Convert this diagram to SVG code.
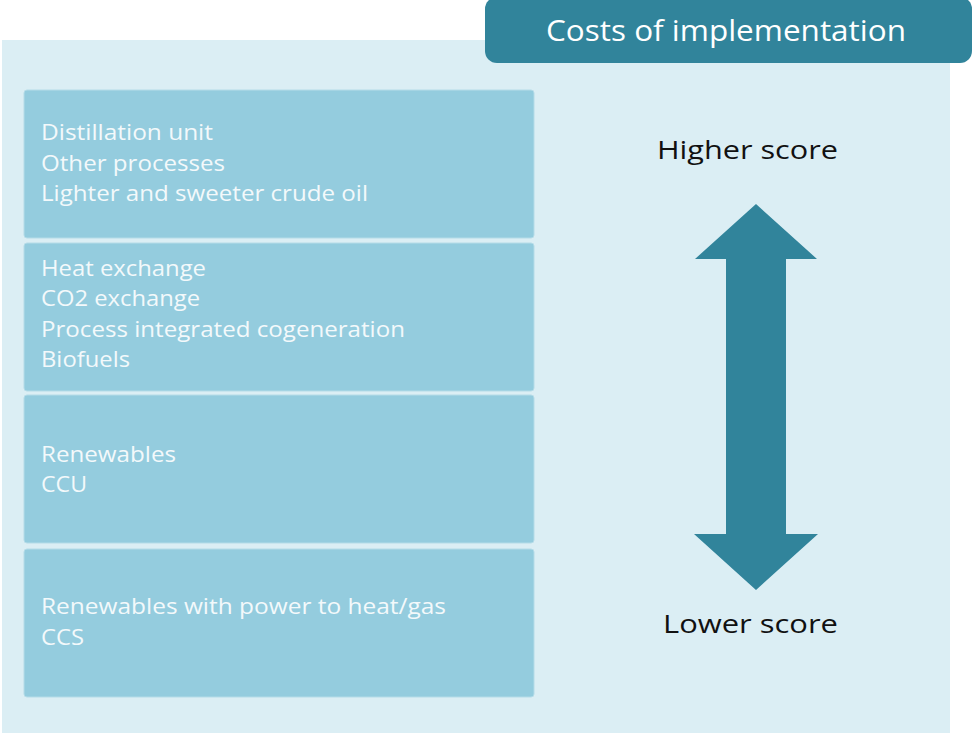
<svg xmlns="http://www.w3.org/2000/svg" width="973" height="736" viewBox="0 0 973 736">
<style>
.box{fill:#94CCDE;stroke:#B5DCE8;stroke-width:1}
.bt{font-family:"Open Sans",Lato,sans-serif;font-size:22px;fill:#F3F9FB}
.lbl{font-family:"Open Sans",Lato,sans-serif;font-size:25px;fill:#111111}
.hdr{font-family:"Open Sans",Lato,sans-serif;font-size:29px;fill:#FFFFFF}
</style>
<rect x="0" y="0" width="973" height="736" fill="#FFFFFF"/>
<g id="panel"><rect x="2" y="40" width="948" height="693" fill="#DBEEF4"/></g>
<g id="header">
<rect x="485" y="-3" width="487" height="66" rx="12" fill="#31849B"/>
<text class="hdr" x="546" y="41" textLength="360" lengthAdjust="spacingAndGlyphs">Costs of implementation</text>
</g>
<g id="box1">
<rect class="box" x="24" y="90" width="510" height="148" rx="3"/>
<text class="bt" x="41" y="140" textLength="172" lengthAdjust="spacingAndGlyphs">Distillation unit</text>
<text class="bt" x="41" y="171" textLength="184" lengthAdjust="spacingAndGlyphs">Other processes</text>
<text class="bt" x="41" y="201" textLength="327" lengthAdjust="spacingAndGlyphs">Lighter and sweeter crude oil</text>
</g>
<g id="box2">
<rect class="box" x="24" y="243" width="510" height="148" rx="3"/>
<text class="bt" x="41" y="276" textLength="165" lengthAdjust="spacingAndGlyphs">Heat exchange</text>
<text class="bt" x="41" y="306" textLength="159" lengthAdjust="spacingAndGlyphs">CO2 exchange</text>
<text class="bt" x="41" y="337" textLength="364" lengthAdjust="spacingAndGlyphs">Process integrated cogeneration</text>
<text class="bt" x="41" y="367" textLength="89" lengthAdjust="spacingAndGlyphs">Biofuels</text>
</g>
<g id="box3">
<rect class="box" x="24" y="395" width="510" height="148" rx="3"/>
<text class="bt" x="41" y="462" textLength="135" lengthAdjust="spacingAndGlyphs">Renewables</text>
<text class="bt" x="41" y="492" textLength="46" lengthAdjust="spacingAndGlyphs">CCU</text>
</g>
<g id="box4">
<rect class="box" x="24" y="549" width="510" height="148" rx="3"/>
<text class="bt" x="41" y="614" textLength="405" lengthAdjust="spacingAndGlyphs">Renewables with power to heat/gas</text>
<text class="bt" x="41" y="645" textLength="43" lengthAdjust="spacingAndGlyphs">CCS</text>
</g>
<g id="higher"><text class="lbl" x="657" y="159" textLength="181" lengthAdjust="spacingAndGlyphs">Higher score</text></g>
<g id="lower"><text class="lbl" x="663" y="633" textLength="175" lengthAdjust="spacingAndGlyphs">Lower score</text></g>
<g id="connectors">
<polygon points="756,204 817,259 786,259 786,534 818,534 756,590 694,534 726,534 726,259 695,259" fill="#31849B"/>
</g>
</svg>
